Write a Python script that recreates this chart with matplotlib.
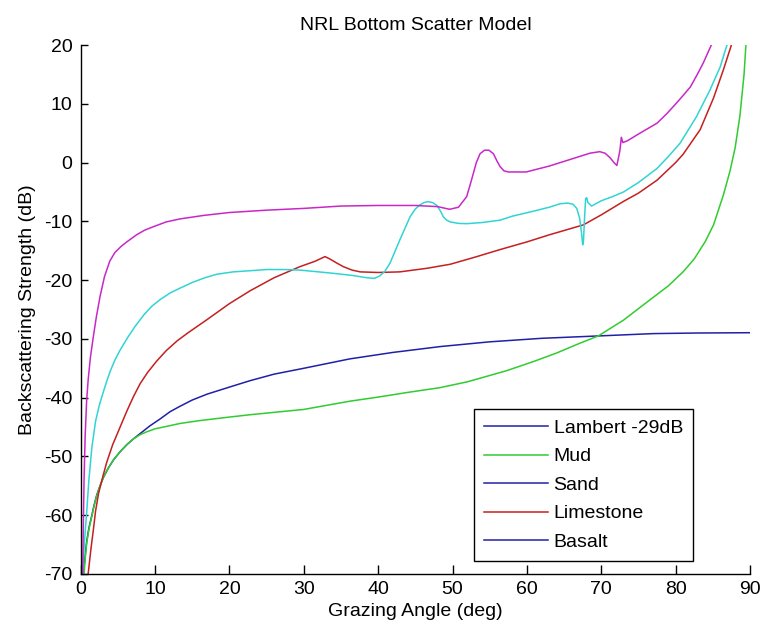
import matplotlib
matplotlib.use('Agg')
import matplotlib.pyplot as plt
from matplotlib.lines import Line2D

plt.rcParams['font.family'] = ['Liberation Sans', 'DejaVu Sans']
plt.rcParams['axes.unicode_minus'] = False

# Backscattering strength (dB) vs grazing angle (deg) for each bottom type
lambert_x = [0.35, 0.55, 0.8, 1.1, 1.47, 1.8, 2.15, 2.6, 3.04, 3.7, 4.4, 5.3, 6.2, 7.1,
             8.0, 9.3, 10.7, 12, 13.3, 15, 17, 20, 22.8, 26, 30, 36.2, 42, 48.4, 55, 62,
             69.6, 77, 83, 90]
lambert_y = [-70, -67.5, -64.5, -62.2, -60.2, -58.3, -56.6, -55.0, -53.6, -52.0, -50.6,
             -49.2, -48.0, -47.0, -46.1, -44.8, -43.6, -42.4, -41.5, -40.4, -39.4, -38.2,
             -37.1, -36.0, -35.0, -33.4, -32.3, -31.3, -30.5, -29.9, -29.5, -29.1, -29.0,
             -28.95]

mud_x = [0.45, 0.6, 0.8, 1.1, 1.47, 1.8, 2.15, 2.6, 3.04, 3.7, 4.4, 5.3, 6.2, 7.1, 8.0,
         8.9, 10, 11.5, 13.3, 16, 20, 22.8, 26, 30, 36.2, 40, 44, 48.3, 52, 57.3, 61,
         64, 67, 69.6, 73, 76.5, 79, 81, 82.5, 84, 85.1, 86.4, 87.3, 88.0, 88.65, 89.2,
         89.45]
mud_y = [-70, -67.5, -64.8, -62.4, -60.3, -58.4, -56.7, -55.0, -53.6, -52.0, -50.6,
         -49.2, -48.0, -47.0, -46.3, -45.8, -45.3, -44.9, -44.4, -43.9, -43.3, -42.9,
         -42.5, -42.0, -40.6, -39.9, -39.1, -38.3, -37.3, -35.4, -33.8, -32.4, -30.8,
         -29.5, -26.8, -23.4, -21.0, -18.6, -16.4, -13.4, -10.6, -5.6, -1.5, 2.5, 8.0,
         15.0, 20]

sand_x = [1.0, 1.4, 1.7, 2.0, 2.4, 3.0, 3.5, 4.3, 5.3, 6.2, 7.1, 8.0, 9.0, 10.2, 11.5,
          13.0, 14.5, 16.9, 20, 22.8, 26, 29.5, 31.5, 32.85, 33.5, 34.3, 35.3, 36.5,
          37.6, 40, 42.9, 46.5, 49.7, 53, 56.4, 60, 63, 67.6, 70, 73, 75, 77.5, 80,
          81, 83.3, 85.1, 86.4, 87.5]
sand_y = [-70, -65.5, -62.5, -59.3, -56.3, -53.3, -51.0, -48.0, -45.0, -42.3, -39.8,
          -37.6, -35.7, -33.8, -32.0, -30.3, -28.9, -26.8, -24.0, -21.8, -19.6, -17.7,
          -16.8, -16.0, -16.4, -17.0, -17.7, -18.3, -18.6, -18.7, -18.6, -18.0, -17.3,
          -16.1, -14.8, -13.5, -12.3, -10.6, -8.9, -6.6, -5.2, -3.0, 0.0, 1.4, 5.6,
          11.0, 15.7, 20]

limestone_x = [0.27, 0.5, 0.8, 1.1, 1.5, 2.0, 2.5, 3.0, 3.5, 4.0, 4.6, 5.3, 6.3, 7.3,
               8.5, 9.6, 10.7, 12, 13.3, 15, 16.7, 18.3, 20.5, 22.8, 25, 27.5, 29.5, 32,
               34, 36.5, 38.5, 39.5, 40.2, 40.9, 41.6, 42.9, 44.3, 45.0, 45.6, 46.2,
               46.7, 47.3, 47.9, 48.4, 48.75, 49.2, 49.7, 50.8, 51.9, 54, 56.4, 58.1,
               60.8, 63, 64.5, 65.5, 66.2, 66.7, 67.1, 67.35, 67.5, 67.6, 67.75, 67.9,
               68.05, 68.2, 68.7, 70, 71.5, 73, 75, 77.5, 79, 80.6, 82.8, 84.6, 86, 86.9]
limestone_y = [-70, -64.5, -59.6, -54.0, -48.5, -44.0, -41.3, -39.2, -37.2, -35.4, -33.6,
               -31.9, -29.8, -27.9, -25.9, -24.4, -23.3, -22.2, -21.4, -20.4, -19.6,
               -19.0, -18.6, -18.4, -18.2, -18.2, -18.3, -18.6, -18.85, -19.2, -19.6,
               -19.7, -19.3, -18.5, -17.1, -13.2, -9.2, -7.9, -7.2, -6.8, -6.65, -6.8,
               -7.3, -8.3, -9.2, -9.8, -10.1, -10.35, -10.4, -10.2, -9.8, -9.1, -8.3,
               -7.6, -7.0, -6.9, -7.1, -7.8, -9.5, -12.0, -14.0, -13.5, -9.5, -6.1,
               -6.0, -6.8, -7.4, -6.5, -5.8, -5.0, -3.4, -1.0, 1.0, 3.3, 7.8, 12.3,
               16.3, 20]

basalt_x = [0.27, 0.35, 0.45, 0.6, 0.8, 1.0, 1.3, 1.7, 2.1, 2.6, 3.2, 3.9, 4.6, 5.4, 6.2,
            7.5, 8.6, 9.8, 11.5, 13.3, 16.5, 20, 25, 30, 35, 40, 45, 48, 49.6, 50.8,
            51.9, 52.5, 53.2, 53.7, 54.3, 54.9, 55.5, 56.0, 56.4, 56.9, 57.5, 59.9, 63,
            66, 68.5, 69.8, 70.5, 71.2, 71.7, 72.1, 72.5, 72.7, 72.9, 73.5, 75.2, 77.5,
            78.8, 80.1, 81, 82, 83, 83.7, 84.8]
basalt_y = [-70, -62, -54, -46.5, -40.5, -37.0, -33.2, -29.6, -26.3, -22.8, -19.4,
            -16.8, -15.3, -14.3, -13.5, -12.3, -11.5, -10.9, -10.1, -9.6, -9.0, -8.5,
            -8.1, -7.8, -7.4, -7.3, -7.3, -7.5, -7.95, -7.6, -5.8, -3.2, 0.0, 1.5, 2.1,
            2.1, 1.5, 0.2, -0.7, -1.4, -1.6, -1.6, -0.6, 0.6, 1.6, 1.85, 1.6, 0.8, 0.0,
            -0.5, 2.0, 4.3, 3.4, 3.7, 5.0, 6.7, 8.3, 10.1, 11.4, 12.9, 15.2, 16.9, 20]

legend_labels = ['Lambert -29dB', 'Mud', 'Sand', 'Limestone', 'Basalt']

blue = '#2020a8'
green = '#30cc30'
red = '#c42020'
cyan = '#30d4d4'
magenta = '#c828c8'
legend_colors = [blue, green, blue, red, blue]

fig = plt.figure(figsize=(7.63, 6.35), dpi=100)
ax = fig.add_axes([80.7 / 763, 1 - 574 / 635, 669.3 / 763, 529 / 635])

lw = 1.1
ax.plot(lambert_x, lambert_y, color=blue, lw=lw)
ax.plot(mud_x, mud_y, color=green, lw=lw)
ax.plot(sand_x, sand_y, color=red, lw=lw)
ax.plot(limestone_x, limestone_y, color=cyan, lw=lw)
ax.plot(basalt_x, basalt_y, color=magenta, lw=lw)

ax.set_xlim(0, 90)
ax.set_ylim(-70, 20)
ax.set_xticks(range(0, 91, 10))
ax.set_yticks(range(-70, 21, 10))

for side in ['top', 'right']:
    ax.spines[side].set_visible(False)
for side in ['left', 'bottom']:
    ax.spines[side].set_linewidth(1.0)
    ax.spines[side].set_color('black')

ax.tick_params(axis='both', direction='in', width=1.0, labelsize=14, colors='black')
ax.tick_params(axis='x', length=6.5, pad=5)
ax.tick_params(axis='y', length=4.8, pad=6)

ax.set_title('NRL Bottom Scatter Model', fontsize=14, pad=11)
ax.set_xlabel('Grazing Angle (deg)', fontsize=14, labelpad=4)
ax.set_ylabel('Backscattering Strength (dB)', fontsize=14, labelpad=6)

handles = [Line2D([0], [0], color=c, lw=lw) for c in legend_colors]
leg = ax.legend(handles, legend_labels, loc='lower right',
                bbox_to_anchor=(0.915, 0.0246), borderaxespad=0, fontsize=14,
                handlelength=3.3, handletextpad=0.3, labelspacing=0.56,
                borderpad=0.52, fancybox=False, framealpha=1)
leg.get_frame().set_edgecolor('black')
leg.get_frame().set_linewidth(1.0)

fig.savefig('out.png', dpi=100)
